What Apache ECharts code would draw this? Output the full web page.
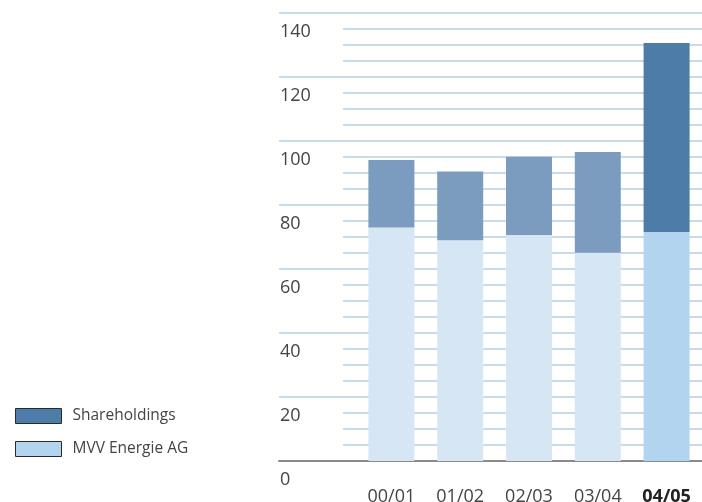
<!DOCTYPE html>
<html>
<head>
<meta charset="utf-8">
<script src="https://cdn.jsdelivr.net/npm/echarts@6/dist/echarts.min.js"></script>
<style>
  html, body { margin: 0; padding: 0; background: #ffffff; }
  #chart { width: 702px; height: 502px; }
</style>
</head>
<body>
<div id="chart"></div>
<script>
// Fiscal years shown along the x axis
const years = ['00/01', '01/02', '02/03', '03/04', '04/05'];
// Stacked components (values)
const mvvEnergie = [73, 69, 70.6, 65.1, 71.6];
const shareholdings = [21.1, 21.5, 24.5, 31.5, 59.0];
// Value axis ticks
const axisMin = 0;
const axisMax = 140;
const majorStep = 20;
const minorStep = 5;

const lastIdx = years.length - 1;
const mvvColor = '#b3d4ee', mvvMuted = '#d7e6f5';
const shareColor = '#4d7ca8', shareMuted = '#7b9bbf';
const lineBlue = '#c7dbee';
const fontFam = '"Open Sans", "Noto Sans", sans-serif';

function styled(values, strong, muted) {
  return values.map((v, i) => ({
    value: v,
    itemStyle: { color: i === lastIdx ? strong : muted }
  }));
}

// All three grids share the same vertical extent so the value scales line up
const gridBase = { top: 13, bottom: 41, outerBoundsMode: 'none', containLabel: false };

const chart = echarts.init(document.getElementById('chart'));
chart.setOption({
  animation: false,
  backgroundColor: '#ffffff',
  legend: {
    orient: 'vertical',
    left: 15,
    top: 408,
    padding: 0,
    itemWidth: 46,
    itemHeight: 15,
    itemGap: 17,
    icon: 'rect',
    data: ['Shareholdings', 'MVV Energie AG'],
    itemStyle: { borderColor: '#2a2a2a', borderWidth: 1 },
    textStyle: { fontFamily: fontFam, fontSize: 15.5, color: '#444', padding: [0, 0, 0, 6] },
    selectedMode: false
  },
  grid: [
    Object.assign({ left: 357, right: 1 }, gridBase),   // bars
    Object.assign({ left: 279, right: 0 }, gridBase),   // major lines + labels + baseline
    Object.assign({ left: 343, right: 0 }, gridBase)    // minor lines
  ],
  xAxis: [
    {
      gridIndex: 0,
      type: 'category',
      data: years,
      axisLine: { show: false },
      axisTick: { show: false },
      axisLabel: {
        interval: 0,
        margin: 27,
        fontFamily: fontFam,
        fontSize: 18,
        color: '#444',
        formatter: (v, i) => i === lastIdx ? '{b|' + v + '}' : v,
        rich: { b: { fontFamily: fontFam, fontSize: 18, fontWeight: 'bold', color: '#222' } }
      }
    },
    {
      gridIndex: 1,
      type: 'value',
      axisLine: { show: true, lineStyle: { color: '#8a8a8a', width: 2 } },
      axisTick: { show: false },
      axisLabel: { show: false },
      splitLine: { show: false }
    },
    {
      gridIndex: 2,
      type: 'value',
      show: false
    }
  ],
  yAxis: [
    {
      gridIndex: 0,
      type: 'value',
      min: axisMin,
      max: axisMax,
      show: false,
      splitLine: { show: false }
    },
    {
      gridIndex: 1,
      type: 'value',
      min: axisMin,
      max: axisMax,
      interval: majorStep,
      axisLine: { show: false },
      axisTick: { show: false },
      splitLine: { show: true, lineStyle: { color: lineBlue, width: 2 } },
      axisLabel: {
        inside: true,
        margin: 1,
        align: 'left',
        verticalAlign: 'top',
        padding: [10, 0, 0, 0],
        fontFamily: fontFam,
        fontSize: 18,
        color: '#444'
      }
    },
    {
      gridIndex: 2,
      type: 'value',
      min: axisMin,
      max: axisMax,
      interval: minorStep,
      axisLine: { show: false },
      axisTick: { show: false },
      axisLabel: { show: false },
      splitLine: { show: true, lineStyle: { color: lineBlue, width: 2 } }
    }
  ],
  series: [
    {
      name: 'MVV Energie AG',
      type: 'bar',
      stack: 'total',
      xAxisIndex: 0,
      yAxisIndex: 0,
      barWidth: 46,
      color: mvvColor,
      data: styled(mvvEnergie, mvvColor, mvvMuted)
    },
    {
      name: 'Shareholdings',
      type: 'bar',
      stack: 'total',
      xAxisIndex: 0,
      yAxisIndex: 0,
      barWidth: 46,
      color: shareColor,
      data: styled(shareholdings, shareColor, shareMuted)
    }
  ]
});
</script>
</body>
</html>
